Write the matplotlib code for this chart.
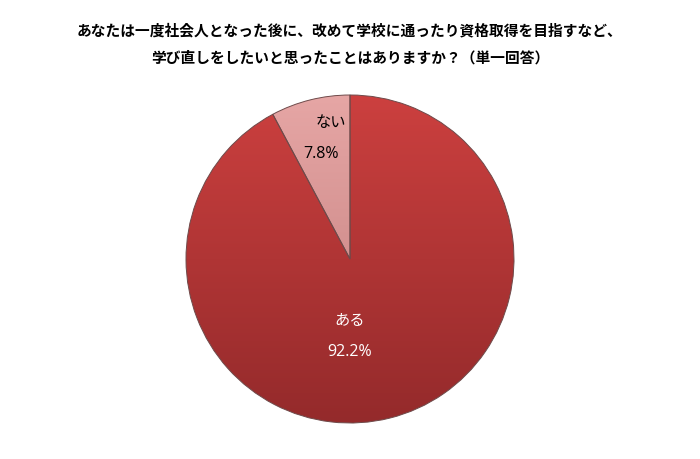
import matplotlib
matplotlib.use("Agg")
import matplotlib.pyplot as plt
import numpy as np
from matplotlib.colors import LinearSegmentedColormap

plt.rcParams['font.family'] = ['Noto Sans CJK JP', 'DejaVu Sans']

title_lines = ["あなたは一度社会人となった後に、改めて学校に通ったり資格取得を目指すなど、",
               "学び直しをしたいと思ったことはありますか？（単一回答）"]
categories = ["ない", "ある"]
values = [7.8, 92.2]
top_colors = ["#E6A6A5", "#CC403F"]
bottom_colors = ["#C07B7A", "#942A2B"]
text_colors = ["#000000", "#FFFFFF"]

W, H = 700, 459
fig = plt.figure(figsize=(7, 4.59), dpi=100)
ax = fig.add_axes([0, 0, 1, 1])
ax.set_xlim(0, W)
ax.set_ylim(0, H)
ax.axis('off')

cx, cy, r = 350, H - 259, 164
wedges, _ = ax.pie(values, startangle=90, counterclock=True, center=(cx, cy),
                   radius=r, colors=top_colors,
                   wedgeprops=dict(edgecolor="#6e4a4a", linewidth=0.7))
ax.set_xlim(0, W)
ax.set_ylim(0, H)
ax.set_aspect('equal')

grad = np.linspace(1, 0, 256).reshape(-1, 1)
for w, tc, bc in zip(wedges, top_colors, bottom_colors):
    cmap = LinearSegmentedColormap.from_list("g", [bc, tc])
    im = ax.imshow(grad, cmap=cmap, extent=(cx - r, cx + r, cy - r, cy + r),
                   origin='upper', aspect='auto', zorder=w.get_zorder() + 0.1)
    im.set_clip_path(w)
    w.set_facecolor('none')
    w.set_zorder(w.get_zorder() + 0.2)
ax.set_xlim(0, W)
ax.set_ylim(0, H)

lab_font = ['Open Sans', 'Noto Sans CJK JP']
ax.text(331, H - 122, categories[0], ha='center', va='center', fontsize=11,
        color=text_colors[0], family=['Noto Sans CJK JP'])
ax.text(321, H - 154, f"{values[0]}%", ha='center', va='center', fontsize=11.5,
        color=text_colors[0], family=lab_font)
ax.text(350, H - 321, categories[1], ha='center', va='center', fontsize=11,
        color=text_colors[1], family=['Noto Sans CJK JP'])
ax.text(350, H - 352, f"{values[1]}%", ha='center', va='center', fontsize=11.5,
        color=text_colors[1], family=lab_font)

ax.text(350, H - 30, title_lines[0], ha='center', va='center', fontsize=10.6, fontweight='bold')
ax.text(350, H - 58, title_lines[1], ha='center', va='center', fontsize=10.6, fontweight='bold')

fig.savefig("out.png", dpi=100)
